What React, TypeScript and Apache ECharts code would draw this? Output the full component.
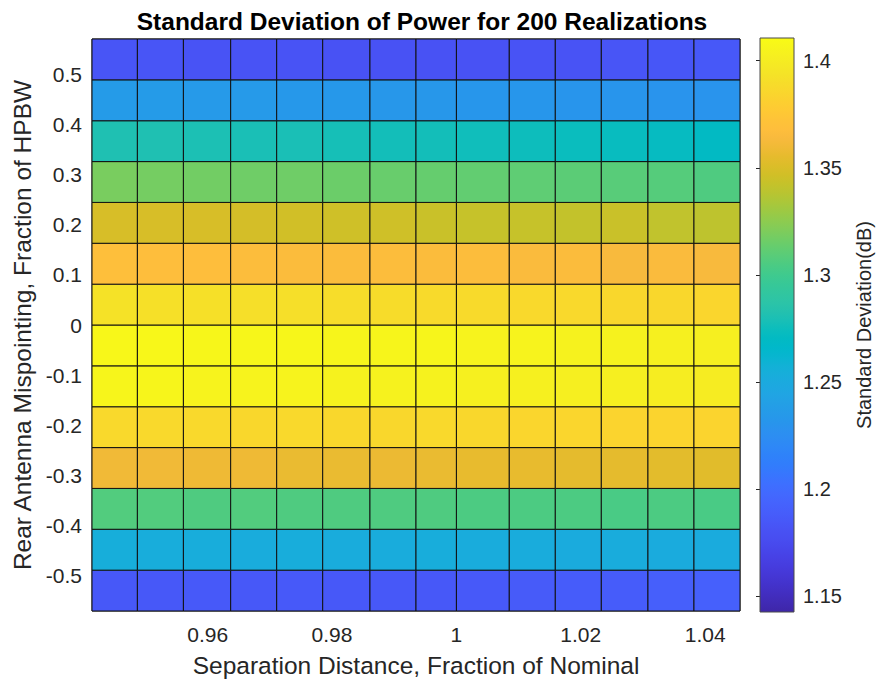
import React, { useEffect, useRef } from "react";
import * as echarts from "echarts";

// Cell edges (pcolor-style grid): separation distance and mispointing
const xEdges = [0.9414, 0.9487, 0.9561, 0.9637, 0.9711, 0.9785, 0.9861, 0.9935, 1.0, 1.0085, 1.0159, 1.0233, 1.0308, 1.0382, 1.0456];
const yEdges = [-0.57, -0.4886, -0.4071, -0.3257, -0.2443, -0.1629, -0.0814, 0, 0.0814, 0.1629, 0.2443, 0.3257, 0.4071, 0.4886, 0.57];

// Standard deviation (dB), one row per mispointing band, listed bottom to top
const row01 = [1.185, 1.185, 1.186, 1.185, 1.186, 1.185, 1.185, 1.185, 1.186, 1.187, 1.188, 1.188, 1.19, 1.191];
const row02 = [1.254, 1.253, 1.253, 1.252, 1.253, 1.252, 1.252, 1.253, 1.252, 1.252, 1.251, 1.252, 1.251, 1.251];
const row03 = [1.307, 1.307, 1.306, 1.307, 1.306, 1.306, 1.306, 1.306, 1.305, 1.305, 1.305, 1.304, 1.305, 1.304];
const row04 = [1.36, 1.36, 1.359, 1.359, 1.357, 1.357, 1.358, 1.357, 1.356, 1.356, 1.355, 1.355, 1.354, 1.353];
const row05 = [1.387, 1.387, 1.387, 1.386, 1.387, 1.386, 1.386, 1.387, 1.386, 1.385, 1.385, 1.384, 1.384, 1.384];
const row06 = [1.406, 1.406, 1.405, 1.405, 1.405, 1.404, 1.404, 1.404, 1.403, 1.403, 1.402, 1.402, 1.401, 1.4];
const row07 = [1.408, 1.408, 1.407, 1.407, 1.407, 1.406, 1.406, 1.406, 1.405, 1.405, 1.404, 1.404, 1.403, 1.402];
const row08 = [1.393, 1.392, 1.392, 1.391, 1.391, 1.39, 1.389, 1.388, 1.388, 1.387, 1.387, 1.386, 1.386, 1.385];
const row09 = [1.369, 1.368, 1.368, 1.367, 1.366, 1.366, 1.367, 1.366, 1.367, 1.365, 1.366, 1.364, 1.365, 1.364];
const row10 = [1.349, 1.349, 1.349, 1.348, 1.347, 1.346, 1.346, 1.344, 1.343, 1.343, 1.342, 1.344, 1.341, 1.34];
const row11 = [1.319, 1.318, 1.317, 1.316, 1.316, 1.315, 1.314, 1.313, 1.312, 1.311, 1.31, 1.309, 1.308, 1.306];
const row12 = [1.281, 1.281, 1.28, 1.279, 1.279, 1.278, 1.277, 1.277, 1.276, 1.275, 1.274, 1.273, 1.272, 1.27];
const row13 = [1.236, 1.236, 1.235, 1.235, 1.234, 1.234, 1.233, 1.233, 1.232, 1.232, 1.231, 1.231, 1.23, 1.23];
const row14 = [1.183, 1.183, 1.182, 1.182, 1.182, 1.181, 1.181, 1.181, 1.181, 1.182, 1.182, 1.183, 1.184, 1.185];
const stdRows = [row01, row02, row03, row04, row05, row06, row07, row08, row09, row10, row11, row12, row13, row14];

// Colour limits and tick labels
const cMin = 1.1427;
const cMax = 1.4106;
const xTicks = [0.96, 0.98, 1, 1.02, 1.04];
const yTicks = [-0.5, -0.4, -0.3, -0.2, -0.1, 0, 0.1, 0.2, 0.3, 0.4, 0.5];
const cTicks = [1.15, 1.2, 1.25, 1.3, 1.35, 1.4];

// parula colormap (64 entries)
const parula = [
  "#3e26a8", "#402ab4", "#422ec0", "#4332cb", "#4537d5", "#463cde", "#4741e5", "#4747eb",
  "#484df0", "#4852f4", "#4758f8", "#465efb", "#4563fd", "#4269fe", "#3e6fff", "#3875fe",
  "#327cfc", "#2f81fa", "#2e87f7", "#2d8cf3", "#2b91ef", "#2796eb", "#259be8", "#23a0e5",
  "#20a5e3", "#1ca9df", "#18addb", "#12b1d6", "#08b5d0", "#01b8ca", "#02bac3", "#0bbdbd",
  "#19bfb6", "#24c1ae", "#2cc4a7", "#31c69f", "#37c897", "#3fca8e", "#4acb84", "#57cc7a",
  "#64cd6f", "#72cd64", "#81cc59", "#8fcb4e", "#9dc943", "#abc739", "#b9c431", "#c5c22a",
  "#d1bf27", "#dcbd29", "#e6bb2d", "#f0ba36", "#f8ba3d", "#febe3c", "#fec338", "#fec934",
  "#fccf30", "#fad62d", "#f7dc2a", "#f5e327", "#f5e924", "#f6ef20", "#f7f51b", "#f9fb15",
];

const FONT = "'Liberation Sans', Arial, Helvetica, sans-serif";
const INK = "#262626";

const fmt = (v: number) => String(Number(Number(v).toFixed(3)));

export default function App() {
  const ref = useRef<HTMLDivElement>(null);

  useEffect(() => {
    if (!ref.current) return;
    const chart = echarts.init(ref.current, null, { renderer: "svg" });

    const cells: number[][] = [];
    stdRows.forEach((row, j) => {
      row.forEach((v, i) => {
        cells.push([xEdges[i], xEdges[i + 1], yEdges[j], yEdges[j + 1], v]);
      });
    });

    const gradientStops = parula.map((c, i) => ({ offset: i / (parula.length - 1), color: c }));

    chart.setOption({
      animation: false,
      backgroundColor: "#ffffff",
      textStyle: { fontFamily: FONT },
      title: {
        text: "Standard Deviation of Power for 200 Realizations",
        left: 417,
        top: 4,
        textAlign: "center",
        textStyle: { fontFamily: FONT, fontSize: 24.5, fontWeight: "bold", color: "#000000" },
      },
      grid: [
        { left: 92, top: 39, width: 648, height: 573, show: true, borderColor: INK, borderWidth: 1, backgroundColor: "transparent" },
        { left: 760, top: 38, width: 34, height: 574, show: false },
      ],
      xAxis: [
        {
          type: "value",
          gridIndex: 0,
          min: xEdges[0],
          max: xEdges[xEdges.length - 1],
          name: "Separation Distance, Fraction of Nominal",
          nameLocation: "middle",
          nameGap: 42,
          nameTextStyle: { fontFamily: FONT, fontSize: 24.5, color: INK },
          axisLine: { show: false },
          axisTick: { show: false },
          splitLine: { show: false },
          axisLabel: { customValues: xTicks, formatter: fmt, margin: 13, fontFamily: FONT, fontSize: 21, color: INK },
        },
        {
          type: "value",
          gridIndex: 1,
          min: 0,
          max: 1,
          show: false,
        },
      ],
      yAxis: [
        {
          type: "value",
          gridIndex: 0,
          min: yEdges[0],
          max: yEdges[yEdges.length - 1],
          name: "Rear Antenna Mispointing, Fraction of HPBW",
          nameLocation: "middle",
          nameGap: 56,
          nameTextStyle: { fontFamily: FONT, fontSize: 24.5, color: INK },
          axisLine: { show: false },
          axisTick: { show: false },
          splitLine: { show: false },
          axisLabel: { customValues: yTicks, formatter: fmt, margin: 10, fontFamily: FONT, fontSize: 21, color: INK },
        },
        {
          type: "value",
          gridIndex: 1,
          position: "right",
          min: cMin,
          max: cMax,
          name: "Standard Deviation(dB)",
          nameLocation: "middle",
          nameRotate: 90,
          nameGap: 60,
          nameTextStyle: { fontFamily: FONT, fontSize: 20, color: INK },
          axisLine: { show: false },
          axisTick: { show: true, inside: true, length: 4, customValues: cTicks, lineStyle: { color: INK, width: 1 } },
          splitLine: { show: false },
          axisLabel: { customValues: cTicks, formatter: fmt, margin: 9, fontFamily: FONT, fontSize: 20, color: INK },
        },
      ],
      visualMap: {
        show: false,
        type: "continuous",
        seriesIndex: 0,
        dimension: 4,
        min: cMin,
        max: cMax,
        inRange: { color: parula },
      },
      series: [
        {
          type: "custom",
          xAxisIndex: 0,
          yAxisIndex: 0,
          encode: { x: [0, 1], y: [2, 3] },
          data: cells,
          renderItem: (params: any, api: any) => {
            const tl = api.coord([api.value(0), api.value(3)]);
            const br = api.coord([api.value(1), api.value(2)]);
            return {
              type: "rect",
              shape: { x: tl[0], y: tl[1], width: br[0] - tl[0], height: br[1] - tl[1] },
              style: { fill: api.visual("color"), stroke: "#111111", lineWidth: 1 },
            };
          },
        },
        {
          type: "custom",
          xAxisIndex: 1,
          yAxisIndex: 1,
          encode: { x: [0, 1], y: [2, 3] },
          data: [[0, 1, cMin, cMax]],
          z: 1,
          renderItem: (params: any, api: any) => {
            const tl = api.coord([api.value(0), api.value(3)]);
            const br = api.coord([api.value(1), api.value(2)]);
            return {
              type: "rect",
              shape: { x: tl[0], y: tl[1], width: br[0] - tl[0], height: br[1] - tl[1] },
              style: {
                fill: new echarts.graphic.LinearGradient(0, 1, 0, 0, gradientStops),
                stroke: "#4a4a4a",
                lineWidth: 1,
              },
            };
          },
        },
      ],
    });

    return () => chart.dispose();
  }, []);

  return (
    <div
      ref={ref}
      style={{ position: "fixed", left: 0, top: 0, width: 876, height: 683, background: "#ffffff" }}
    />
  );
}
